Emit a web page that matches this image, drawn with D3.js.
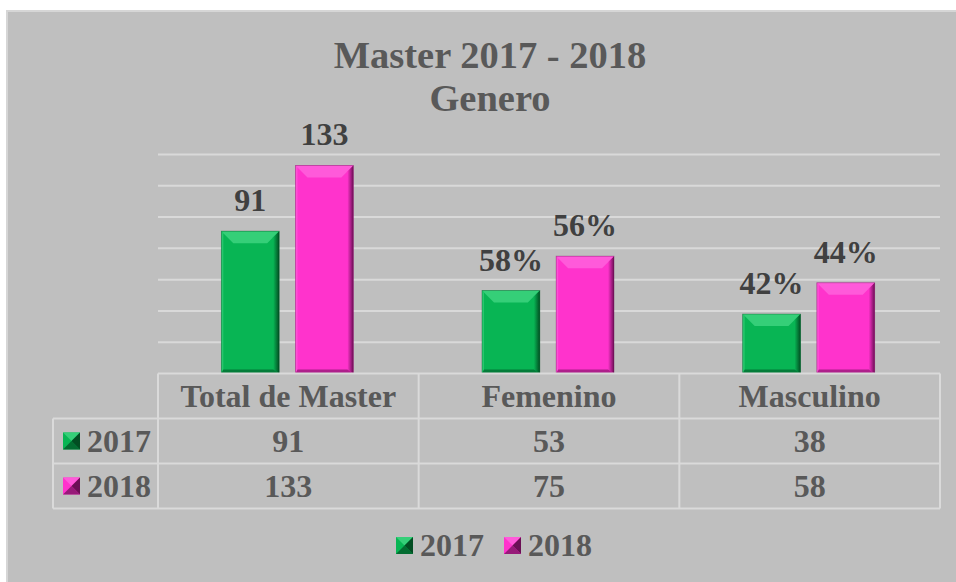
<!DOCTYPE html>
<html><head><meta charset="utf-8">
<script src="https://cdn.jsdelivr.net/npm/d3@7"></script>
<style>html,body{margin:0;padding:0;background:#fff;}svg{display:block;}
text{font-family:'Liberation Serif','Times New Roman',Tinos,serif;font-weight:bold;}</style>
</head><body>
<svg id="chart" width="956" height="582"></svg>
<script>
const titleLines = ["Master 2017 - 2018", "Genero"];
const categories = ["Total de Master", "Femenino", "Masculino"];
const series = ["2017", "2018"];
const values2017 = [91, 53, 38];
const values2018 = [133, 75, 58];
const labels2017 = ["91", "58%", "42%"];
const labels2018 = ["133", "56%", "44%"];
const yTicks = [0, 20, 40, 60, 80, 100, 120, 140];

const colors = {"2017": {base:"#08b554", light:"#35cf78", dark:"#024d22"},
                "2018": {base:"#ff33cc", light:"#ff5ada", dark:"#6b0f55"}};
const FONT = "'Liberation Serif','Times New Roman',Tinos,serif";
const svg = d3.select("#chart");

function txt(g, xx, yy, s, size, fill, anchor){
  return g.append("text").attr("x",xx).attr("y",yy).attr("text-anchor",anchor||"middle")
    .style("font-family",FONT).style("font-weight","bold").attr("font-size",size)
    .attr("fill",fill).text(s);
}

// background
svg.append("rect").attr("x",7).attr("y",11).attr("width",960).attr("height",590)
  .attr("fill","#bfbfbf").attr("stroke","#d6d6d6").attr("stroke-width",2);

// title
txt(svg, 490, 68, titleLines[0], 38.5, "#595959");
txt(svg, 490, 111, titleLines[1], 38.5, "#595959");

const pLeft = 158, pRight = 940, pTop = 154.5, pBottom = 373.5;
const x = d3.scaleBand().domain(categories).range([pLeft,pRight]).padding(0);
const y = d3.scaleLinear().domain([0,140]).range([pBottom, pTop]);

// gridlines
svg.append("g").selectAll("line").data(yTicks.slice(1)).join("line")
  .attr("x1",pLeft).attr("x2",pRight)
  .attr("y1",d=>y(d)).attr("y2",d=>y(d))
  .attr("stroke","#d9d9d9").attr("stroke-width",2);

const data = [];
categories.forEach((c,i)=>{
  data.push({cat:c, s:"2017", v:values2017[i], label:labels2017[i]});
  data.push({cat:c, s:"2018", v:values2018[i], label:labels2018[i]});
});

const defs = svg.append("defs");
series.forEach(s=>{
  const gr = defs.append("linearGradient").attr("id","rg"+s).attr("x1",0).attr("x2",1).attr("y1",0).attr("y2",0);
  gr.append("stop").attr("offset","0%").attr("stop-color",colors[s].base);
  gr.append("stop").attr("offset","100%").attr("stop-color",colors[s].dark);
});

function bevelBar(g, x0, y0, w, h, col, s){
  const x1 = x0+w, y1 = y0+h;
  const tb = Math.min(12, h/2), ti = 12, sb = 6, lb = 2, bb = 4;
  g.append("rect").attr("x",x0).attr("y",y0).attr("width",w).attr("height",h).attr("fill",col.base);
  // top bevel
  g.append("polygon").attr("points",[[x0,y0],[x1,y0],[x1-ti,y0+tb],[x0+ti,y0+tb]].join(" "))
    .attr("fill",col.light);
  // left edge
  g.append("polygon").attr("points",[[x0,y0],[x0+lb,y0+lb],[x0+lb,y1-bb],[x0,y1]].join(" "))
    .attr("fill",col.light).attr("opacity",0.7);
  // right edge
  g.append("polygon").attr("points",[[x1,y0],[x1,y1],[x1-sb,y1-bb],[x1-sb,y0+sb]].join(" "))
    .attr("fill","url(#rg"+s+")");
  // bottom edge
  g.append("polygon").attr("points",[[x0,y1],[x1,y1],[x1-sb,y1-bb],[x0+lb,y1-bb]].join(" "))
    .attr("fill",col.dark).attr("opacity",0.55);
  g.append("rect").attr("x",x0).attr("y",y0).attr("width",w).attr("height",h)
    .attr("fill","none").attr("stroke",col.dark).attr("stroke-opacity",0.45).attr("stroke-width",0.8);
}

const bars = svg.append("g");
data.forEach(d=>{
  const c = x(d.cat) + x.bandwidth()/2 - 1;
  const xs = d3.scaleBand().domain(series).range([c-66, c+66]).paddingInner(0.22);
  const bx = xs(d.s), bw = xs.bandwidth();
  const by = y(d.v), bh = y(0)-y(d.v);
  bevelBar(bars.append("g"), bx, by, bw, bh, colors[d.s], d.s);
  txt(bars, bx+bw/2, by-20, d.label, 32, "#404040");
});

// data table
const rowH = 45, tableTop = pBottom, legLeft = 53;
const tg = svg.append("g");
const lineCol = "#dadada";
tg.append("line").attr("x1",pLeft).attr("x2",pRight).attr("y1",tableTop).attr("y2",tableTop)
  .attr("stroke",lineCol).attr("stroke-width",2);
[1,2,3].forEach(r=>{
  tg.append("line").attr("x1",legLeft).attr("x2",pRight)
    .attr("y1",tableTop+r*rowH).attr("y2",tableTop+r*rowH)
    .attr("stroke",lineCol).attr("stroke-width",2);
});
tg.append("line").attr("x1",legLeft).attr("x2",legLeft).attr("y1",tableTop+rowH).attr("y2",tableTop+3*rowH)
  .attr("stroke",lineCol).attr("stroke-width",2);
categories.concat(["__end"]).forEach((c,i)=>{
  const xx = i < categories.length ? x(c) : pRight;
  tg.append("line").attr("x1",xx).attr("x2",xx).attr("y1",tableTop).attr("y2",tableTop+3*rowH)
    .attr("stroke",lineCol).attr("stroke-width",2);
});
categories.forEach(c=>{
  txt(tg, x(c)+x.bandwidth()/2, tableTop+33, c, 32, "#595959");
});

function marker(g, mx, my, sz, col){
  const cx = mx+sz/2, cy = my+sz/2;
  g.append("rect").attr("x",mx).attr("y",my).attr("width",sz).attr("height",sz).attr("fill",col.base);
  g.append("polygon").attr("points",[[mx,my],[mx+sz,my],[cx,cy]].join(" ")).attr("fill",col.light);
  g.append("polygon").attr("points",[[mx+sz,my],[mx+sz,my+sz],[cx,cy]].join(" ")).attr("fill",col.dark);
  g.append("polygon").attr("points",[[mx,my+sz],[mx+sz,my+sz],[cx,cy]].join(" ")).attr("fill",col.dark).attr("opacity",0.7);
}

const rowsVals = [values2017, values2018];
series.forEach((s,r)=>{
  const ry = tableTop + (r+1)*rowH;
  marker(tg, 63, ry+14, 17, colors[s]);
  txt(tg, 87, ry+33, s, 32, "#595959", "start");
  categories.forEach((c,i)=>{
    txt(tg, x(c)+x.bandwidth()/2, ry+33, rowsVals[r][i], 32, "#595959");
  });
});

// legend
const lg = svg.append("g");
const legX = [396, 504];
series.forEach((s,i)=>{
  marker(lg, legX[i], 537, 17, colors[s]);
  txt(lg, legX[i]+24, 556, s, 32, "#595959", "start");
});
</script>
</body></html>
